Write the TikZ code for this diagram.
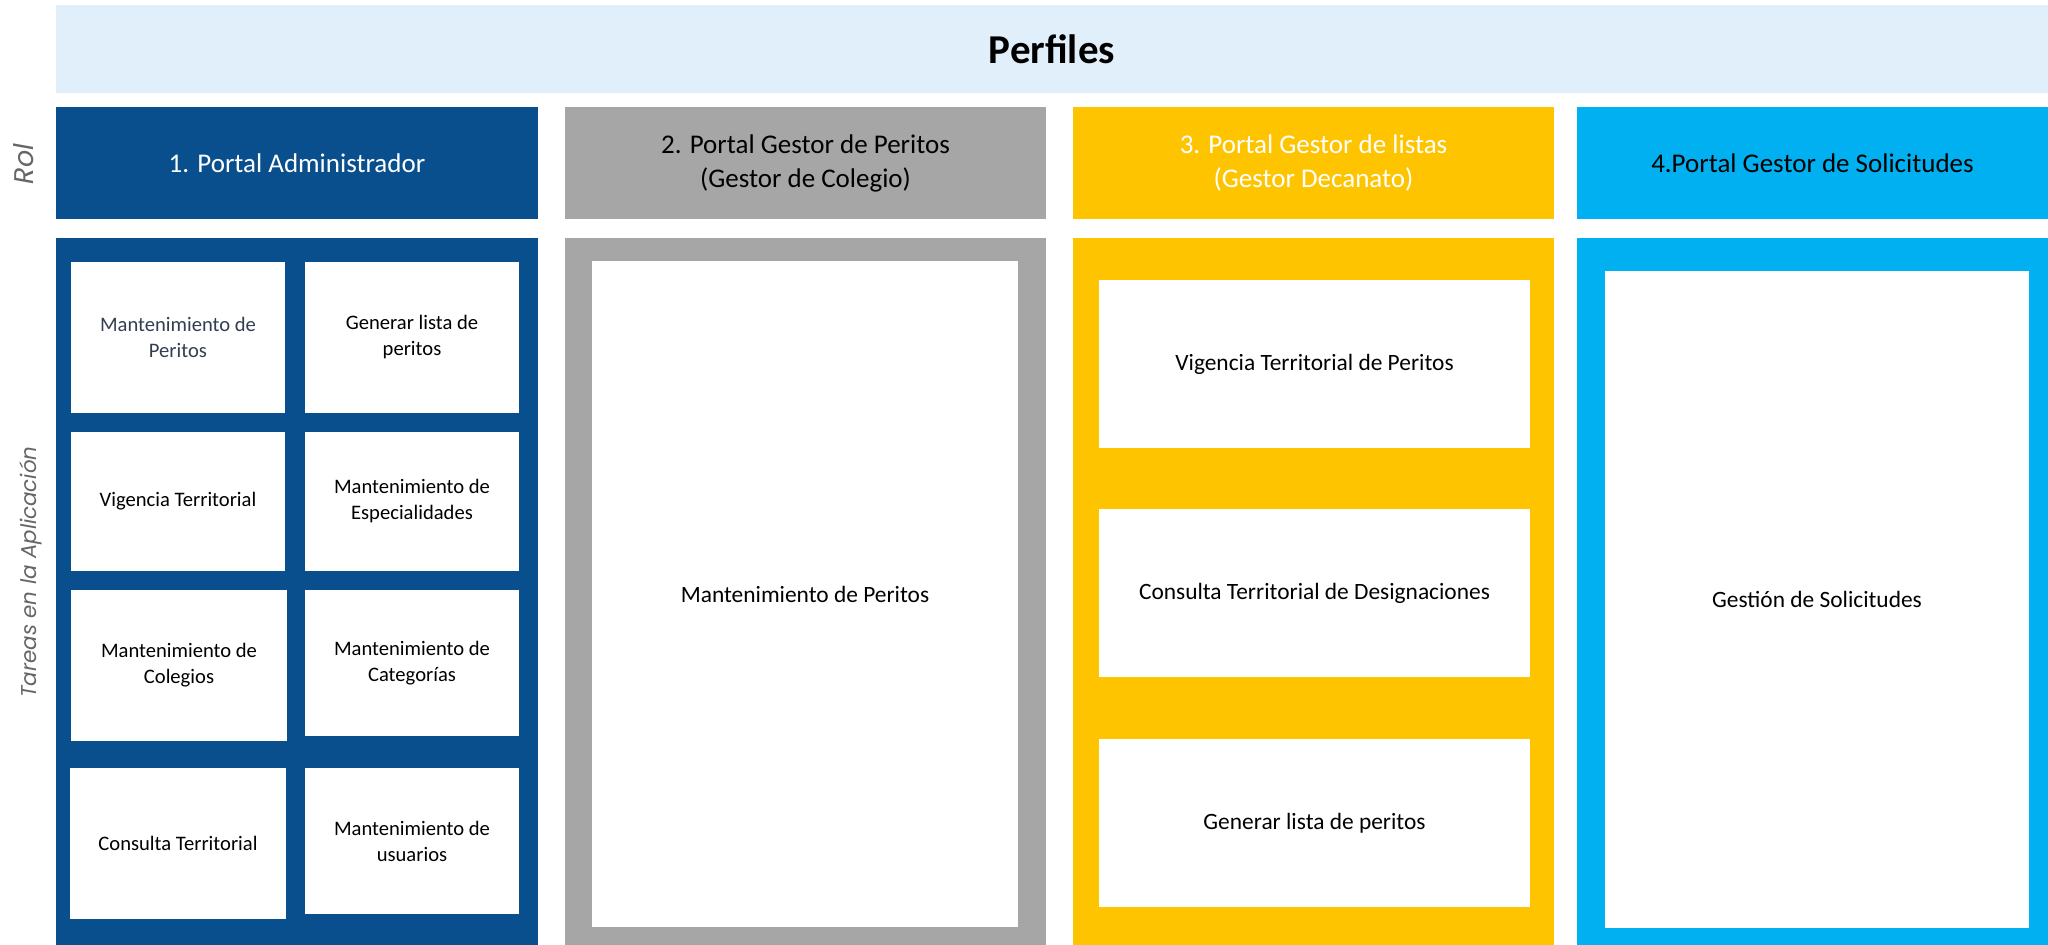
\documentclass[tikz,border=0pt]{standalone}
\usepackage{fontspec}
\setmainfont{Carlito}
\newfontfamily\sidefont{Poppins}
\definecolor{bandc}{HTML}{E1EFFA}
\definecolor{bluec}{HTML}{0A4F8D}
\definecolor{greyc}{HTML}{A6A6A6}
\definecolor{yelc}{HTML}{FFC400}
\definecolor{cyanc}{HTML}{00B0F0}
\definecolor{sidec}{HTML}{666666}
\definecolor{darktxt}{HTML}{333F50}
\newcommand{\pbox}[7]{\node[#6, minimum width={(#4-#2)*0.5pt}, minimum height={(#5-#3)*0.5pt}] (#1) at ({(#2+#4)/2},{(#3+#5)/2}) {#7};}
\tikzset{
  rect/.style={inner sep=0pt, outer sep=0pt, draw=none, align=center},
  bandbox/.style={rect, fill=bandc, font=\bfseries\fontsize{20.5}{24}\selectfont},
  rolbox/.style={rect, font=\fontsize{13.5}{17}\selectfont},
  panelbox/.style={rect},
  smallbox/.style={rect, fill=white, text=black, font=\fontsize{10.3}{13}\selectfont},
  bigbox/.style={rect, fill=white, text=black, font=\fontsize{11.7}{14}\selectfont},
  sidelabel/.style={text=sidec, font=\sidefont\itshape\fontsize{10.7}{12}\selectfont, rotate=90}
}
\begin{document}
\begin{tikzpicture}[x=0.5pt,y=-0.5pt]
\useasboundingbox (0,0) rectangle (2048,945);
% title band
\pbox{band}{56}{5}{2048}{93}{bandbox}{Perfiles}
% side labels
\node[sidelabel, font=\sidefont\itshape\fontsize{13.5}{16}\selectfont] (rol) at (24,164) {Rol};
\node[sidelabel] (tareas) at (31,572) {Tareas en la Aplicación};
% role boxes
\pbox{r1}{56}{107}{538}{219}{rolbox, fill=bluec, text=white}{1. Portal Administrador}
\pbox{r2}{565}{107}{1046}{219}{rolbox, fill=greyc, text=black}{2. Portal Gestor de Peritos\\(Gestor de Colegio)}
\pbox{r3}{1073}{107}{1554}{219}{rolbox, fill=yelc, text=white}{3. Portal Gestor de listas\\(Gestor Decanato)}
\pbox{r4}{1577}{107}{2048}{219}{rolbox, fill=cyanc, text=black}{4.Portal Gestor de Solicitudes}
% panels
\pbox{p1}{56}{238}{538}{945}{panelbox, fill=bluec}{}
\pbox{p2}{565}{238}{1046}{945}{panelbox, fill=greyc}{}
\pbox{p3}{1073}{238}{1554}{945}{panelbox, fill=yelc}{}
\pbox{p4}{1577}{238}{2048}{945}{panelbox, fill=cyanc}{}
% panel 1 tasks
\pbox{t11}{71}{262}{285}{413}{smallbox, text=darktxt}{Mantenimiento de\\Peritos}
\pbox{t12}{305}{262}{519}{413}{smallbox}{Generar lista de\\peritos}
\pbox{t21}{71}{432}{285}{571}{smallbox}{Vigencia Territorial}
\pbox{t22}{305}{432}{519}{571}{smallbox}{Mantenimiento de\\Especialidades}
\pbox{t31}{71}{590}{287}{741}{smallbox}{Mantenimiento de\\Colegios}
\pbox{t32}{305}{590}{519}{736}{smallbox}{Mantenimiento de\\Categorías}
\pbox{t41}{70}{768}{286}{919}{smallbox}{Consulta Territorial}
\pbox{t42}{305}{768}{519}{914}{smallbox}{Mantenimiento de\\usuarios}
% panel 2
\pbox{g1}{592}{261}{1018}{927}{bigbox}{Mantenimiento de Peritos}
% panel 3
\pbox{y1}{1099}{280}{1530}{448}{bigbox}{Vigencia Territorial de Peritos}
\pbox{y2}{1099}{509}{1530}{677}{bigbox}{Consulta Territorial de Designaciones}
\pbox{y3}{1099}{739}{1530}{907}{bigbox}{Generar lista de peritos}
% panel 4
\pbox{c1}{1605}{271}{2029}{928}{bigbox}{Gestión de Solicitudes}
\end{tikzpicture}
\end{document}
